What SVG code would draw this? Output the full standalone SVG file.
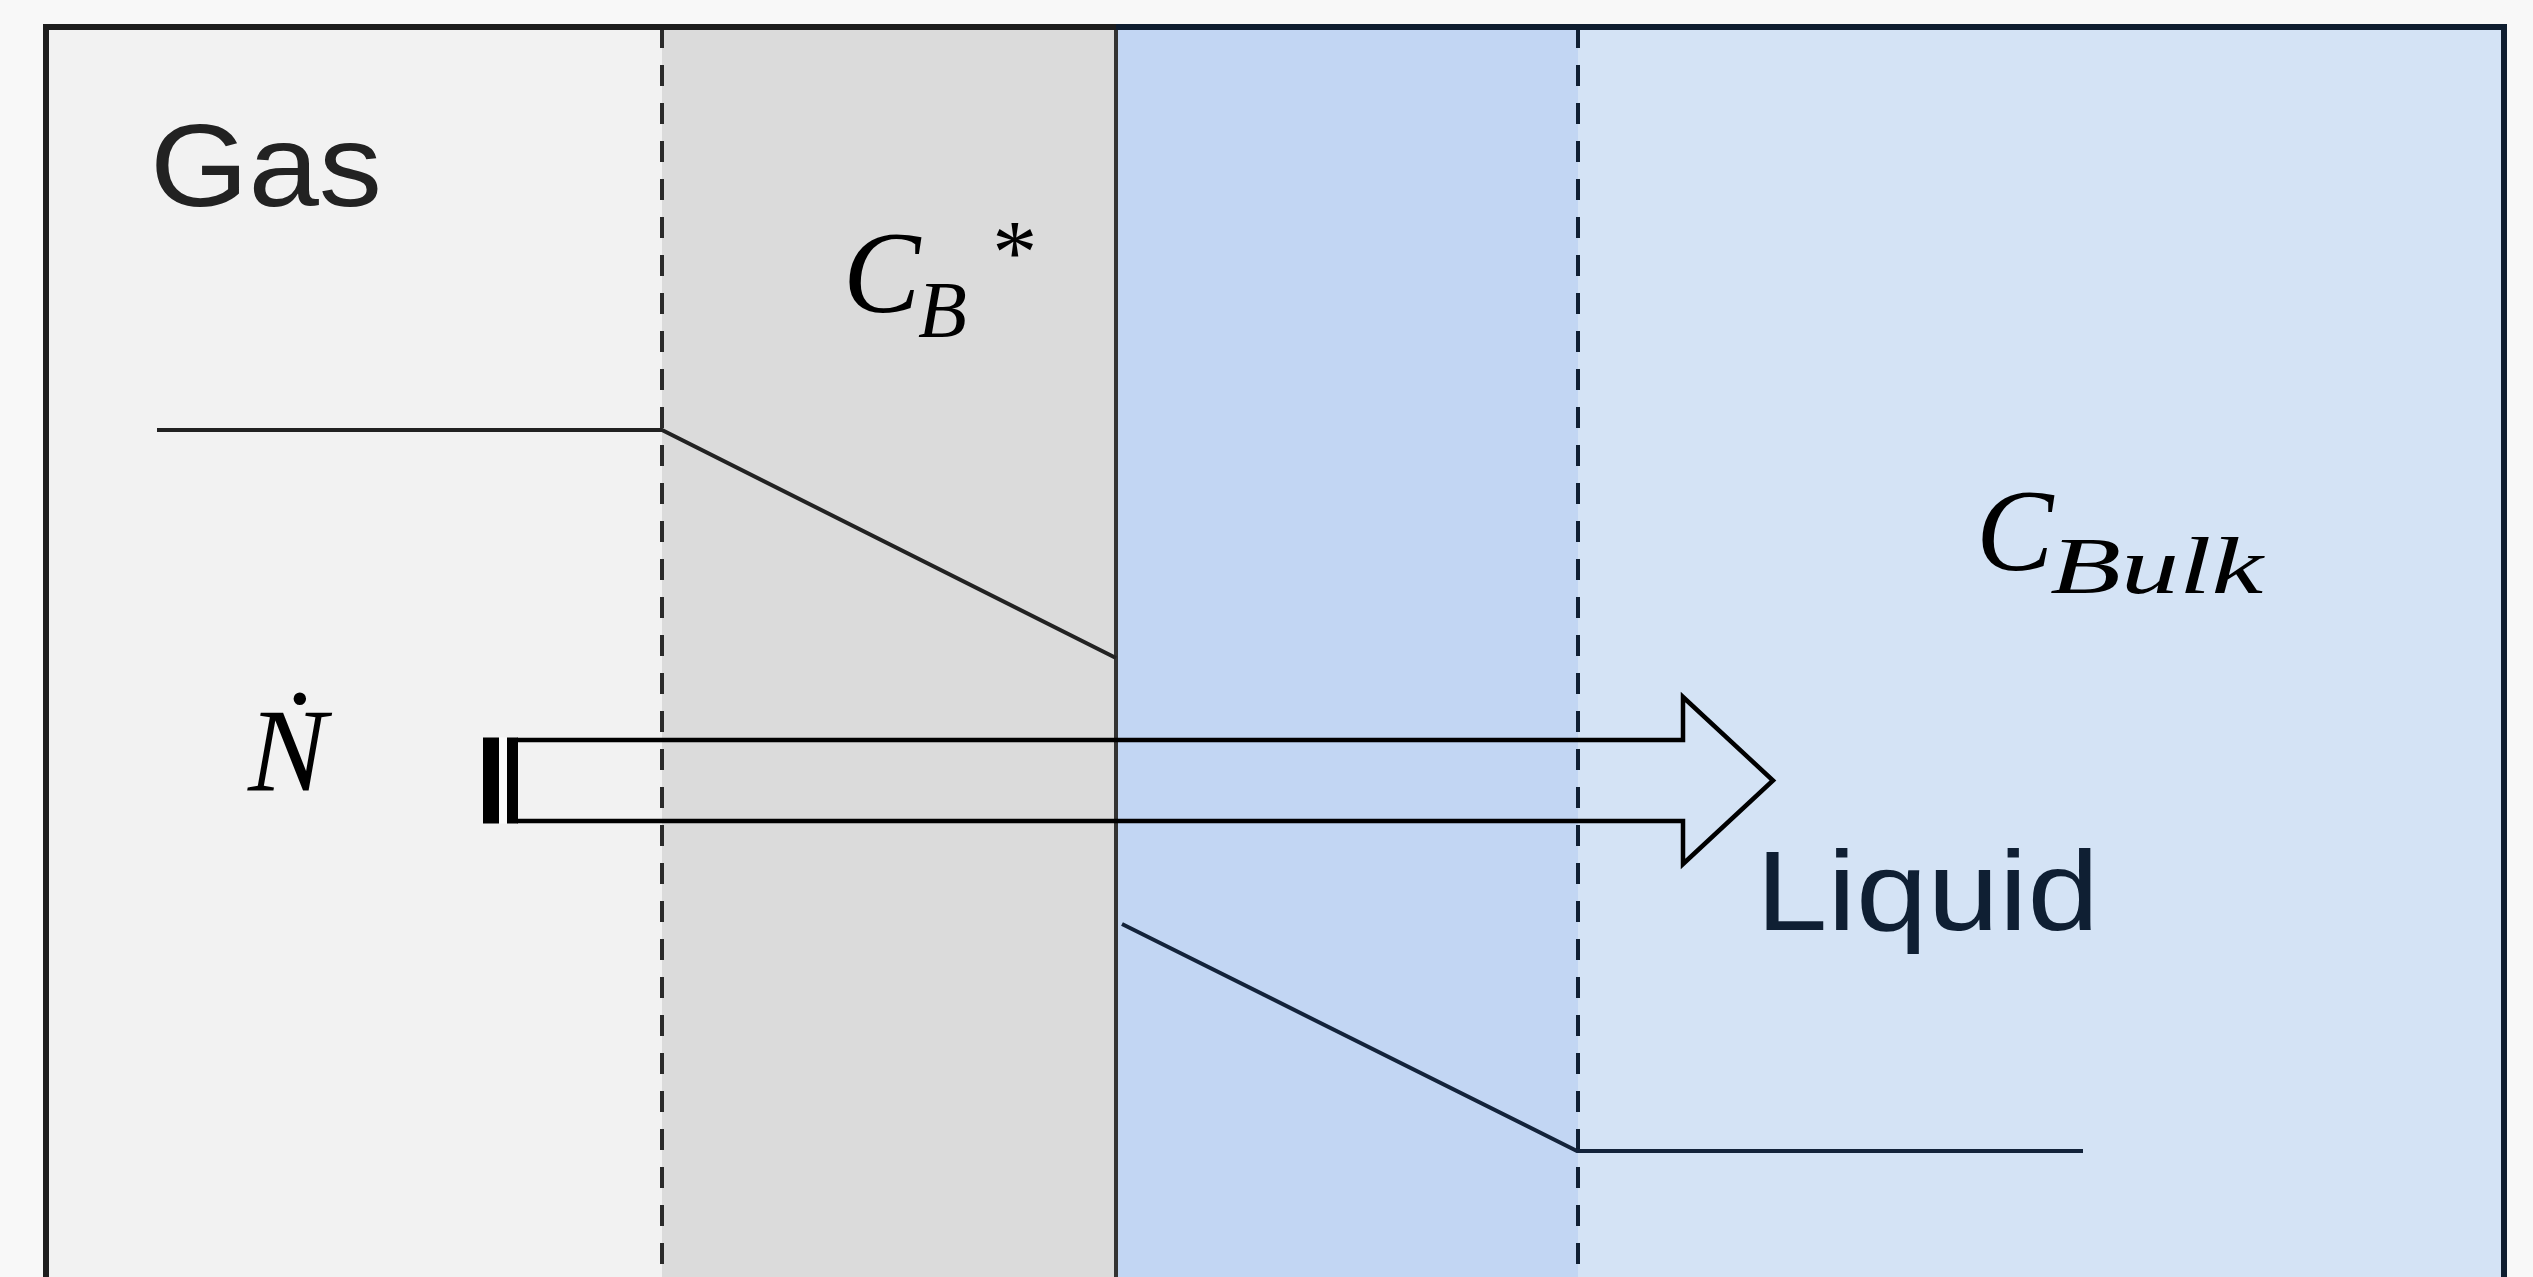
<svg xmlns="http://www.w3.org/2000/svg" width="2533" height="1277" viewBox="0 0 2533 1277">
  <style>
    .sans { font-family: "Liberation Sans", Arial, sans-serif; }
    .math { font-family: "Liberation Serif", "Times New Roman", serif; font-style: italic; fill: #000; }
    .dash-dark { stroke: #2a2a2a; stroke-width: 4; stroke-dasharray: 21 17; fill: none; }
    .dash-navy { stroke: #0f1f33; stroke-width: 4; stroke-dasharray: 21 17; fill: none; }
    .conc-dark { stroke: #222; stroke-width: 4; fill: none; }
    .conc-navy { stroke: #13233a; stroke-width: 4; fill: none; }
  </style>

  <rect id="page" x="0" y="0" width="2533" height="1277" fill="#f8f8f8"/>

  <g id="regions">
    <rect id="gas-bulk" x="46" y="27" width="616" height="1260" fill="#f2f2f2"/>
    <rect id="gas-film" x="662" y="27" width="454" height="1260" fill="#dbdbdb"/>
    <rect id="liquid-film" x="1116" y="27" width="462" height="1260" fill="#c2d6f3"/>
    <rect id="liquid-bulk" x="1578" y="27" width="926" height="1260" fill="#d4e3f5"/>
  </g>

  <g id="boundaries">
    <line x1="662" y1="27" x2="662" y2="1290" class="dash-dark"/>
    <line x1="1116" y1="27" x2="1116" y2="1290" stroke="#333" stroke-width="4"/>
    <line x1="1578" y1="27" x2="1578" y2="1290" class="dash-navy"/>
    <path d="M1116 27 H46 V1290" fill="none" stroke="#1e1e1e" stroke-width="6"/>
    <path d="M1116 27 H2504 V1290" fill="none" stroke="#0f1e30" stroke-width="6"/>
  </g>

  <g id="connectors">
    <polyline points="157,430 662,430 1116,658" class="conc-dark"/>
    <polyline points="1122,924 1577,1151 2083,1151" class="conc-navy"/>
  </g>

  <g id="flux-arrow">
    <rect x="483" y="737.5" width="16" height="86" fill="#000"/>
    <rect x="499" y="737.5" width="8" height="86" fill="#fbfbfb"/>
    <rect x="507" y="737.5" width="11" height="86" fill="#000"/>
    <path d="M517 740 H1683 V697 L1773 780.5 L1683 864 V821 H517" fill="none" stroke="#000" stroke-width="4.5" stroke-linejoin="miter"/>
  </g>

  <g id="labels">
    <text id="gas-label" class="sans" x="150" y="206" font-size="116" fill="#222" textLength="232" lengthAdjust="spacingAndGlyphs">Gas</text>
    <text id="liquid-label" class="sans" x="1756" y="930" font-size="113" fill="#0f1f33" textLength="343" lengthAdjust="spacingAndGlyphs">Liquid</text>
    <g id="cb-star">
      <text class="math" x="843" y="312" font-size="116">C</text>
      <text class="math" x="918" y="337" font-size="80">B</text>
      <text class="math" x="988" y="283" font-size="90">*</text>
    </g>
    <g id="c-bulk">
      <text class="math" x="1976" y="570" font-size="116">C</text>
      <text class="math" x="2050" y="593" font-size="80" textLength="213" lengthAdjust="spacingAndGlyphs">Bulk</text>
    </g>
    <text id="n-dot" class="math" x="248" y="790" font-size="118">Ṅ</text>
  </g>
</svg>
